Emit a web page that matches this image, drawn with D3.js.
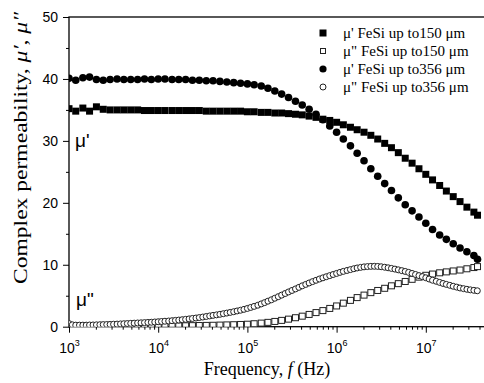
<!DOCTYPE html>
<html>
<head>
<meta charset="utf-8">
<script src="https://cdn.jsdelivr.net/npm/d3@7"></script>
<style>
  body { margin: 0; background: #fff; }
  svg { display: block; overflow: hidden; }
</style>
</head>
<body>
<div id="chart"></div>
<script>
// frequency sweep used by the filled series and the open squares (Hz)
var freqA = [
  1e3, 1.19e3, 1.43e3, 1.7e3, 2.03e3, 2.42e3, 2.89e3, 3.46e3, 4.12e3, 4.92e3, 5.88e3, 7.02e3, 8.38e3,
  1e4, 1.19e4, 1.43e4, 1.7e4, 2.03e4, 2.42e4, 2.89e4, 3.46e4, 4.12e4, 4.92e4, 5.88e4, 7.02e4, 8.38e4,
  1e5, 1.19e5, 1.43e5, 1.7e5, 2.03e5, 2.42e5, 2.89e5, 3.46e5, 4.12e5, 4.92e5, 5.88e5, 7.02e5, 8.38e5,
  1e6, 1.19e6, 1.43e6, 1.7e6, 2.03e6, 2.42e6, 2.89e6, 3.46e6, 4.12e6, 4.92e6, 5.88e6, 7.02e6, 8.38e6,
  1e7, 1.19e7, 1.43e7, 1.7e7, 2.03e7, 2.42e7, 2.89e7, 3.46e7, 3.8e7
];
var muRe150 = [
  35.2, 34.8, 35.3, 34.8, 35.5, 35.1, 35.0, 35.0, 35.0, 35.0, 35.0, 34.9, 34.9,
  34.9, 34.9, 34.9, 34.9, 34.9, 34.9, 34.9, 34.8, 34.8, 34.8, 34.8, 34.8, 34.8,
  34.7, 34.7, 34.6, 34.6, 34.5, 34.5, 34.4, 34.3, 34.2, 34.0, 33.8, 33.5, 33.3,
  33.0, 32.6, 32.2, 31.8, 31.4, 30.9, 30.3, 29.6, 28.9, 28.1, 27.2, 26.4, 25.5,
  24.6, 23.7, 22.8, 21.9, 21.0, 20.2, 19.3, 18.5, 18.0
];
var muIm150 = [
  0.15, 0.1, 0.1, 0.1, 0.1, 0.1, 0.1, 0.1, 0.1, 0.1, 0.1, 0.1, 0.1,
  0.1, 0.1, 0.12, 0.13, 0.15, 0.17, 0.19, 0.21, 0.23, 0.26, 0.29, 0.32, 0.36,
  0.4, 0.48, 0.58, 0.7, 0.85, 1.02, 1.22, 1.45, 1.7, 1.98, 2.28, 2.6, 2.95,
  3.35, 3.8, 4.25, 4.7, 5.1, 5.5, 5.85, 6.2, 6.6, 6.95, 7.3, 7.65, 8.0,
  8.3, 8.5, 8.7, 8.85, 9.0, 9.15, 9.35, 9.55, 9.7
];
var muRe356 = [
  40.1, 39.8, 40.2, 40.3, 39.9, 39.8, 39.9, 40.0, 39.9, 39.9, 39.9, 40.0, 39.9,
  40.0, 40.0, 39.9, 39.9, 39.9, 39.8, 39.8, 39.7, 39.7, 39.6, 39.5, 39.4, 39.3,
  39.2, 39.05, 38.85, 38.5, 38.05, 37.55, 37.0, 36.4, 35.8, 35.1, 34.3, 33.4, 32.4,
  31.4, 30.3, 29.2, 28.0, 26.8, 25.5, 24.3, 23.1, 22.0, 20.8, 19.7, 18.7, 17.7,
  16.7, 15.7, 14.8, 14.1, 13.4, 12.7, 12.1, 11.5, 10.9
];
// denser sweep for the open circles (Hz)
var freqB = [
  1e3, 1.09e3, 1.19e3, 1.31e3, 1.43e3, 1.56e3, 1.7e3, 1.86e3, 2.03e3, 2.22e3, 2.42e3, 2.65e3, 2.89e3,
  3.16e3, 3.46e3, 3.78e3, 4.12e3, 4.51e3, 4.92e3, 5.38e3, 5.88e3, 6.42e3, 7.02e3, 7.67e3, 8.38e3, 9.15e3,
  1e4, 1.09e4, 1.19e4, 1.31e4, 1.43e4, 1.56e4, 1.7e4, 1.86e4, 2.03e4, 2.22e4, 2.42e4, 2.65e4, 2.89e4,
  3.16e4, 3.46e4, 3.78e4, 4.12e4, 4.51e4, 4.92e4, 5.38e4, 5.88e4, 6.42e4, 7.02e4, 7.67e4, 8.38e4, 9.15e4,
  1e5, 1.09e5, 1.19e5, 1.31e5, 1.43e5, 1.56e5, 1.7e5, 1.86e5, 2.03e5, 2.22e5, 2.42e5, 2.65e5, 2.89e5,
  3.16e5, 3.46e5, 3.78e5, 4.12e5, 4.51e5, 4.92e5, 5.38e5, 5.88e5, 6.42e5, 7.02e5, 7.67e5, 8.38e5, 9.15e5,
  1e6, 1.09e6, 1.19e6, 1.31e6, 1.43e6, 1.56e6, 1.7e6, 1.86e6, 2.03e6, 2.22e6, 2.42e6, 2.65e6, 2.89e6,
  3.16e6, 3.46e6, 3.78e6, 4.12e6, 4.51e6, 4.92e6, 5.38e6, 5.88e6, 6.42e6, 7.02e6, 7.67e6, 8.38e6, 9.15e6,
  1e7, 1.09e7, 1.19e7, 1.31e7, 1.43e7, 1.56e7, 1.7e7, 1.86e7, 2.03e7, 2.22e7, 2.42e7, 2.65e7, 2.89e7,
  3.16e7, 3.46e7, 3.78e7
];
var muIm356 = [
  0.5, 0.3, 0.25, 0.25, 0.25, 0.25, 0.27, 0.28, 0.3, 0.32, 0.34, 0.35, 0.37,
  0.4, 0.42, 0.45, 0.48, 0.51, 0.54, 0.57, 0.6, 0.63, 0.66, 0.69, 0.72, 0.76,
  0.8, 0.84, 0.88, 0.92, 0.97, 1.02, 1.07, 1.13, 1.19, 1.26, 1.33, 1.4, 1.48,
  1.56, 1.65, 1.74, 1.83, 1.91, 2.0, 2.1, 2.2, 2.31, 2.42, 2.54, 2.66, 2.8,
  2.95, 3.11, 3.28, 3.47, 3.68, 3.89, 4.12, 4.35, 4.6, 4.85, 5.1, 5.36, 5.61,
  5.85, 6.1, 6.35, 6.6, 6.83, 7.06, 7.28, 7.49, 7.7, 7.89, 8.07, 8.25, 8.43,
  8.6, 8.77, 8.93, 9.08, 9.22, 9.36, 9.48, 9.58, 9.66, 9.71, 9.74, 9.75, 9.73,
  9.68, 9.6, 9.51, 9.41, 9.3, 9.18, 9.05, 8.92, 8.77, 8.6, 8.43, 8.25, 8.08,
  7.9, 7.7, 7.5, 7.33, 7.15, 6.98, 6.83, 6.68, 6.53, 6.39, 6.25, 6.14, 6.04,
  5.95, 5.87, 5.8
];
var xTickValues = [1e3, 1e4, 1e5, 1e6, 1e7];
var yTickValues = [0, 10, 20, 30, 40, 50];
var yMinorValues = [5, 15, 25, 35, 45];
var legendLabels = ["\u03bc' FeSi up to150 \u03bcm", "\u03bc\" FeSi up to150 \u03bcm",
                    "\u03bc' FeSi up to356 \u03bcm", "\u03bc\" FeSi up to356 \u03bcm"];

var svg = d3.select("#chart").append("svg"),
    svg_width = 484, svg_height = 383;
svg.attr("width", svg_width).attr("height", svg_height);

var margin = {top: 17, left: 69},
    width = 446, height = 309.7;
var g = svg.append("g").attr("transform", "translate(" + margin.left + "," + margin.top + ")");

var x = d3.scaleLog().domain([1e3, 1e8]).range([0, width]);
var y = d3.scaleLinear().domain([0, 50]).range([height, 0]);

g.append("clipPath").attr("id", "clip")
    .append("rect").attr("width", width).attr("height", height);

// minor x ticks 2..9 per decade
var xMinor = [];
xTickValues.forEach(function(d) { for (var k = 2; k < 10; k++) xMinor.push(d * k); });

var xMinorAxis = g.append("g")
    .attr("transform", "translate(0," + height + ")")
    .call(d3.axisBottom(x).tickValues(xMinor).tickSize(3).tickFormat(""));
xMinorAxis.select(".domain").remove();

var xAxis = g.append("g")
    .attr("transform", "translate(0," + height + ")")
    .call(d3.axisBottom(x).tickValues(xTickValues).tickSize(6).tickFormat(""));
xAxis.select(".domain").remove();
xAxis.selectAll(".tick text")
    .attr("y", 26).attr("dy", null)
    .attr("font-family", "'Liberation Sans', Arial, sans-serif").attr("font-size", 14)
    .each(function(d) {
        var t = d3.select(this);
        t.append("tspan").text("10");
        t.append("tspan").attr("dy", -7).attr("font-size", 9).text(Math.round(Math.log10(d)));
    });

var yMinorAxis = g.append("g")
    .call(d3.axisLeft(y).tickValues(yMinorValues).tickSize(3).tickFormat(""));
yMinorAxis.select(".domain").remove();

var yAxis = g.append("g")
    .call(d3.axisLeft(y).tickValues(yTickValues).tickSize(6).tickPadding(5));
yAxis.select(".domain").remove();
yAxis.selectAll(".tick text")
    .attr("font-family", "'Liberation Sans', Arial, sans-serif").attr("font-size", 14);

g.append("rect")
    .attr("width", width).attr("height", height)
    .attr("fill", "none").attr("stroke", "#000").attr("stroke-width", 1.3);

// data
var plot = g.append("g").attr("clip-path", "url(#clip)");

function squares(freq, vals, size, filled) {
    plot.append("g").selectAll("rect")
        .data(vals)
        .enter().append("rect")
        .attr("x", function(d, i) { return x(freq[i]) - size / 2; })
        .attr("y", function(d) { return y(d) - size / 2; })
        .attr("width", size).attr("height", size)
        .attr("fill", filled ? "#000" : "#fff")
        .attr("stroke", filled ? "none" : "#222")
        .attr("stroke-width", 1);
}
function circles(freq, vals, r, filled) {
    plot.append("g").selectAll("circle")
        .data(vals)
        .enter().append("circle")
        .attr("cx", function(d, i) { return x(freq[i]); })
        .attr("cy", function(d) { return y(d); })
        .attr("r", r)
        .attr("fill", filled ? "#000" : "#fff")
        .attr("stroke", filled ? "none" : "#222")
        .attr("stroke-width", 1);
}

squares(freqA, muRe150, 7, true);
squares(freqA, muIm150, 6, false);
circles(freqA, muRe356, 3.8, true);
circles(freqB, muIm356, 3, false);

// legend
var legend = svg.selectAll(".legend")
    .data(legendLabels)
    .enter().append("g")
    .attr("class", "legend")
    .attr("transform", function(d, i) { return "translate(323," + (33 + i * 18) + ")"; });

legend.each(function(d, i) {
    var l = d3.select(this);
    if (i == 0) l.append("rect").attr("x", -3.5).attr("y", -3.5).attr("width", 7).attr("height", 7).attr("fill", "#000");
    if (i == 1) l.append("rect").attr("x", -2.5).attr("y", -2.5).attr("width", 5).attr("height", 5).attr("fill", "#fff").attr("stroke", "#222");
    if (i == 2) l.append("circle").attr("r", 3.6).attr("fill", "#000");
    if (i == 3) l.append("circle").attr("r", 3).attr("fill", "#fff").attr("stroke", "#222");
});

legend.append("text")
    .attr("x", 20)
    .attr("y", 5)
    .attr("font-family", "'Liberation Serif', 'Times New Roman', serif")
    .attr("font-size", 15)
    .text(function(d) { return d; });

// curve annotations
svg.append("text")
    .attr("x", 75).attr("y", 147)
    .attr("font-family", "'Liberation Sans', Arial, sans-serif").attr("font-size", 19)
    .text("\u03bc'");
svg.append("text")
    .attr("x", 76).attr("y", 306)
    .attr("font-family", "'Liberation Sans', Arial, sans-serif").attr("font-size", 19)
    .text("\u03bc\"");

// axis titles
var xTitle = svg.append("text")
    .attr("x", 267).attr("y", 375)
    .attr("text-anchor", "middle")
    .attr("font-family", "'Liberation Serif', 'Times New Roman', serif")
    .attr("font-size", 18);
xTitle.append("tspan").text("Frequency, ");
xTitle.append("tspan").attr("font-style", "italic").text("f");
xTitle.append("tspan").text(" (Hz)");

var yTitle = svg.append("text")
    .attr("transform", "translate(26.5,148) rotate(-90)")
    .attr("text-anchor", "middle")
    .attr("font-family", "'Liberation Serif', 'Times New Roman', serif")
    .attr("font-size", 18)
    .attr("textLength", 272)
    .attr("lengthAdjust", "spacingAndGlyphs");
yTitle.append("tspan").text("Complex permeability, ");
yTitle.append("tspan").attr("font-style", "italic").text("\u03bc\u2032");
yTitle.append("tspan").text(", ");
yTitle.append("tspan").attr("font-style", "italic").text("\u03bc\u2033");
</script>
</body>
</html>
